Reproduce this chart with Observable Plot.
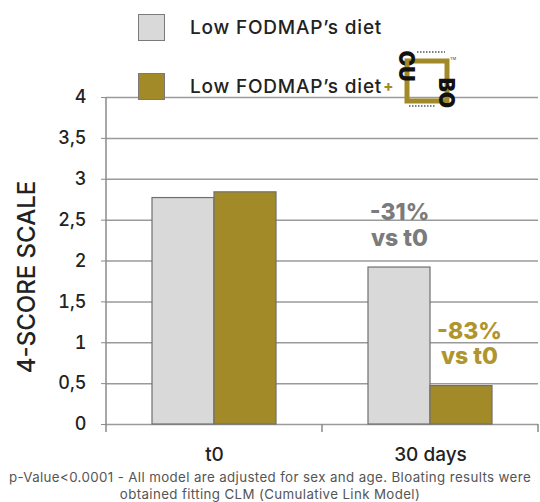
<!DOCTYPE html>
<html>
<head>
<meta charset="utf-8">
<script src="https://cdn.jsdelivr.net/npm/d3@7"></script>
<script src="https://cdn.jsdelivr.net/npm/@observablehq/plot@0.6"></script>
<style>
  body { margin: 0; background: #fff; font-family: Inter, "Noto Sans", sans-serif; }
  #wrap { position: relative; width: 540px; height: 502px; overflow: hidden; }
  #chart { position: absolute; left: 0; top: 0; }
  #chart g[aria-label="y-label"] text { letter-spacing: 2.6px; }
  #chart g[aria-label="change"] text { letter-spacing: 0.8px; }
  .legend-item { position: absolute; left: 138px; display: flex; align-items: center; }
  .swatch { width: 27px; height: 27px; box-sizing: border-box; border: 1.5px solid #7a7a7a; }
  .legend-label { margin-left: 25px; font-size: 19px; letter-spacing: 0.8px; color: #222; font-weight: 500; }
  .plus { color: #a38a28; font-weight: 800; font-size: 15px; margin-left: 1px; }
  #logo { position: absolute; left: 395px; top: 46px; }
  #note { position: absolute; left: 0; top: 469px; width: 540px; text-align: center;
          font-size: 13.3px; letter-spacing: 0.38px; line-height: 17px; color: #555; }
</style>
</head>
<body>
<div id="wrap">
  <div id="chart"></div>
  <div id="legend"></div>
  <div id="note"></div>
</div>
<script>
// Bloating score (0–4) per time point and diet
const timepoints = ["t0", "30 days"];
const diets = ["Low FODMAP's diet", "Low FODMAP's diet + CUBO"];
const lowFodmapScores = [2.77, 1.92];
const lowFodmapCuboScores = [2.84, 0.47];
const changeLabels = ["-31%\nvs t0", "-83%\nvs t0"]; // change at 30 days, per diet
const yTicks = [0, 0.5, 1, 1.5, 2, 2.5, 3, 3.5, 4];
const dietColors = ["#d9d9d9", "#a38a28"];
const labelColors = ["#7b7b7b", "#b0952c"];
const yLabel = "4-SCORE SCALE";
const footnote = [
  "p-Value<0.0001 - All model are adjusted for sex and age. Bloating results were",
  "obtained fitting CLM (Cumulative Link Model)"
];

const rows = [];
timepoints.forEach((t, i) => {
  rows.push({time: t, diet: diets[0], score: lowFodmapScores[i]});
  rows.push({time: t, diet: diets[1], score: lowFodmapCuboScores[i]});
});
const lastTime = timepoints[timepoints.length - 1];
const annotations = diets.map((d, i) => ({
  time: lastTime, diet: d,
  score: (i === 0 ? lowFodmapScores : lowFodmapCuboScores)[timepoints.length - 1],
  label: changeLabels[i]
}));

const commaFormat = d => String(d).replace(".", ",");

// Axis line on the left plus category boundary ticks under the baseline
function axisLines(index, scales, values, dims) {
  const {y} = scales;
  const {width, marginLeft, marginRight} = dims;
  const n = timepoints.length;
  const step = (width - marginLeft - marginRight) / n;
  const y0 = y(0), yTop = y(yTicks[yTicks.length - 1]);
  const g = d3.create("svg:g").attr("stroke", "#8a8a8a").attr("stroke-width", 1.5);
  g.append("line").attr("x1", marginLeft).attr("x2", marginLeft).attr("y1", yTop).attr("y2", y0 + 8);
  for (let i = 1; i <= n; i++) {
    const x = marginLeft + i * step;
    g.append("line").attr("x1", x).attr("x2", x).attr("y1", y0).attr("y2", y0 + 8);
  }
  return g.node();
}

const chart = Plot.plot({
  width: 540,
  height: 502,
  marginLeft: 105,
  marginRight: 2,
  marginTop: 97,
  marginBottom: 78,
  style: {fontFamily: "Inter, 'Noto Sans', sans-serif", color: "#222", background: "transparent"},
  fx: {domain: timepoints, padding: 0},
  x: {domain: diets, paddingInner: 0, paddingOuter: 0.722, axis: null},
  y: {domain: [0, 4]},
  color: {domain: diets, range: dietColors},
  marks: [
    Plot.gridY(yTicks, {stroke: "#9a9a9a", strokeOpacity: 1, strokeWidth: 1.5}),
    Plot.barY(rows, {fx: "time", x: "diet", y: "score", fill: "diet",
      stroke: "#6f6f6f", strokeWidth: 1.2}),
    Plot.axisY({ticks: yTicks, tickFormat: commaFormat, tickSize: 5, tickPadding: 15,
      fontSize: 18, fontWeight: 500, stroke: "#8a8a8a", label: null}),
    Plot.axisFx({anchor: "bottom", tickSize: 0, tickPadding: 23, fontSize: 19,
      fontWeight: 500, label: null}),
    Plot.frame({facet: "super", stroke: "none", render: axisLines}),
    Plot.text([yLabel], {facet: "super", frameAnchor: "left", textAnchor: "middle",
      rotate: -90, dx: -79, dy: 16, ariaLabel: "y-label",
      fontSize: 24, fontWeight: 500, fill: "#222"}),
    Plot.text(annotations.filter(d => d.diet === diets[0]), {fx: "time", x: "diet", y: "score",
      text: "label", lineAnchor: "bottom", dy: -22, lineHeight: 1.1, ariaLabel: "change",
      fontSize: 23, fontWeight: 800, fill: labelColors[0]}),
    Plot.text(annotations.filter(d => d.diet === diets[1]), {fx: "time", x: "diet", y: "score",
      text: "label", lineAnchor: "bottom", dy: -22, dx: 8, lineHeight: 1.1, ariaLabel: "change",
      fontSize: 23, fontWeight: 800, fill: labelColors[1]})
  ]
});
document.getElementById("chart").append(chart);

// Legend
const legend = document.getElementById("legend");
diets.forEach((d, i) => {
  const item = document.createElement("div");
  item.className = "legend-item";
  item.style.top = (i === 0 ? 14 : 73) + "px";
  const sw = document.createElement("div");
  sw.className = "swatch";
  sw.style.background = dietColors[i];
  const lab = document.createElement("span");
  lab.className = "legend-label";
  lab.textContent = "Low FODMAP\u2019s diet";
  item.append(sw, lab);
  if (i === 1) {
    const plus = document.createElement("span");
    plus.className = "plus";
    plus.textContent = "+";
    item.append(plus);
  }
  legend.append(item);
});

// CUBO brand mark next to the second legend entry
legend.insertAdjacentHTML("beforeend", `
<svg id="logo" width="66" height="66" viewBox="0 0 66 66">
  <rect x="12" y="15" width="40" height="40" fill="none" stroke="#a38a28" stroke-width="5"/>
  <line x1="22" y1="6" x2="50" y2="6" stroke="#555" stroke-width="1.5" stroke-dasharray="1.5 1.5"/>
  <line x1="14" y1="60" x2="40" y2="60" stroke="#555" stroke-width="1.5" stroke-dasharray="1.5 1.5"/>
  <text x="55" y="14" font-size="4" fill="#333">TM</text>
  <text transform="translate(11,20) rotate(90)" text-anchor="middle" dominant-baseline="central"
        font-size="21" font-weight="900" fill="#111" font-family="Inter, sans-serif">CU</text>
  <text transform="translate(51,47) rotate(90)" text-anchor="middle" dominant-baseline="central"
        font-size="21" font-weight="900" fill="#111" font-family="Inter, sans-serif">BO</text>
</svg>`);

document.getElementById("note").innerHTML = footnote.join("<br>");
</script>
</body>
</html>
